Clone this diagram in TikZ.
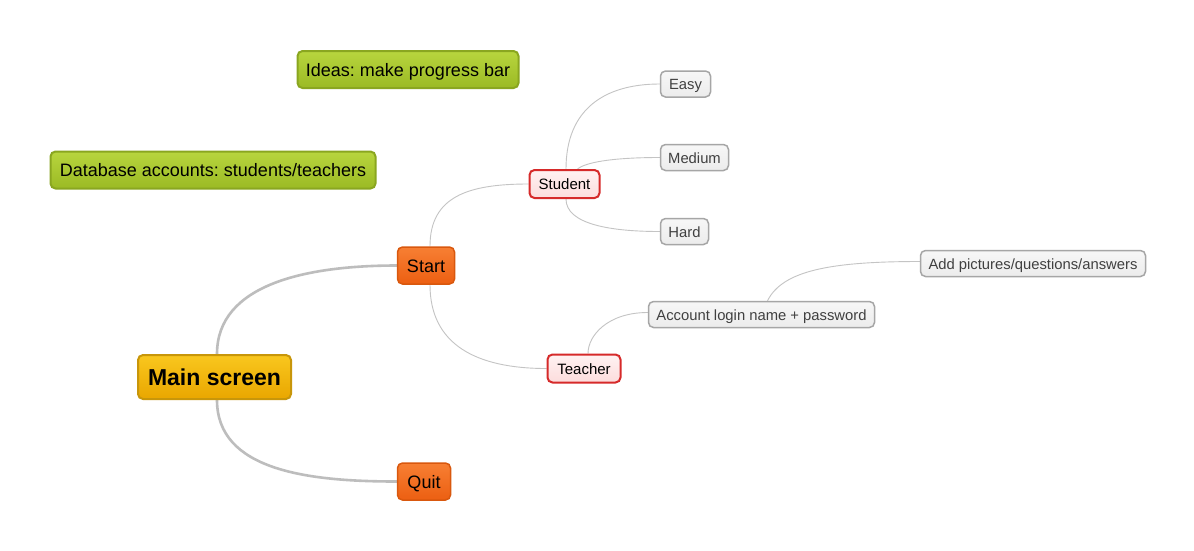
\documentclass[tikz,border=0pt]{standalone}
\usepackage{fontspec}
\setmainfont{Liberation Sans}
\usetikzlibrary{backgrounds}
\frenchspacing
\definecolor{mainborder}{HTML}{C8960A}
\definecolor{maintop}{HTML}{F9C71E}
\definecolor{mainbot}{HTML}{E9A600}
\definecolor{orgborder}{HTML}{D9580E}
\definecolor{orgtop}{HTML}{F77F33}
\definecolor{orgbot}{HTML}{EC5F12}
\definecolor{grnborder}{HTML}{8AA620}
\definecolor{grntop}{HTML}{B8D53E}
\definecolor{grnbot}{HTML}{9BBA24}
\definecolor{redborder}{HTML}{D62A2A}
\definecolor{pinktop}{HTML}{FFF2F2}
\definecolor{pinkbot}{HTML}{FCDCDC}
\definecolor{gryborder}{HTML}{A6A6A6}
\definecolor{grytop}{HTML}{F7F7F7}
\definecolor{grybot}{HTML}{ECECEC}
\definecolor{gtext}{HTML}{404040}
\definecolor{thickline}{HTML}{BDBDBD}
\definecolor{thinline}{HTML}{C4C4C4}
\tikzset{
  box/.style={rounded corners=5pt, inner sep=0pt, align=center, anchor=center, text depth=0pt},
  mainbox/.style={box, draw=mainborder, line width=2pt, top color=maintop, bottom color=mainbot,
    font=\fontsize{23}{27}\selectfont\bfseries, minimum width=153pt, minimum height=44pt,
    text height=17pt},
  orgbox/.style={box, draw=orgborder, line width=1.5pt, top color=orgtop, bottom color=orgbot,
    font=\fontsize{18}{21}\selectfont, minimum height=37pt, text height=13.5pt},
  grnbox/.style={box, draw=grnborder, line width=2pt, top color=grntop, bottom color=grnbot,
    font=\fontsize{18}{21}\selectfont, minimum height=37pt, text height=13.5pt},
  redbox/.style={box, draw=redborder, line width=2pt, top color=pinktop, bottom color=pinkbot,
    font=\fontsize{15}{18}\selectfont, minimum height=28pt, text height=11.3pt},
  grybox/.style={box, draw=gryborder, line width=1.5pt, top color=grytop, bottom color=grybot,
    text=gtext, font=\fontsize{14.8}{18}\selectfont, minimum height=26pt, text height=11.1pt},
  thicklink/.style={draw=thickline, line width=2.6pt},
  thinlink/.style={draw=thinline, line width=0.9pt},
}
\begin{document}
\begin{tikzpicture}[x=1pt,y=-1pt]
\useasboundingbox (0,0) rectangle (1194,550);

\node[mainbox] (main) at (214.5,377) {Main screen};
\node[orgbox, minimum width=57pt] (start) at (426,265.5) {Start};
\node[orgbox, minimum width=53pt] (quit) at (424,481.5) {Quit};
\node[grnbox, minimum width=221pt] (ideas) at (408,69.5) {Ideas: make progress bar};
\node[grnbox, minimum width=325pt] (db) at (213,170) {Database accounts: students/teachers};
\node[redbox, minimum width=70pt] (student) at (564.5,184) {Student};
\node[redbox, minimum width=73pt] (teacher) at (584,368.5) {Teacher};
\node[grybox, minimum width=50pt] (easy) at (685.5,84) {Easy};
\node[grybox, minimum width=68pt] (medium) at (694.5,157.5) {Medium};
\node[grybox, minimum width=48pt] (hard) at (684.5,231.5) {Hard};
\node[grybox, minimum width=226pt] (account) at (761.5,314.5) {Account login name + password};
\node[grybox, minimum width=225pt] (add) at (1033,263.5) {Add pictures/questions/answers};

\begin{scope}[on background layer]
\fill[white] (0,0) rectangle (1194,550);
\draw[thicklink] ([xshift=2.5pt]main.north) .. controls ++(0,-70) and ++(-90,0) .. (start.west);
\draw[thicklink] ([xshift=2.5pt]main.south) .. controls ++(0,70) and ++(-90,0) .. (quit.west);
\draw[thinlink] ([xshift=4pt]start.north) .. controls ++(0,-50) and ++(-60,0) .. (student.west);
\draw[thinlink] ([xshift=4pt]start.south) .. controls ++(0,60) and ++(-70,0) .. (teacher.west);
\draw[thinlink] ([xshift=1.5pt]student.north) .. controls ++(0,-60) and ++(-55,0) .. (easy.west);
\draw[thinlink] ([xshift=13pt]student.north) .. controls ++(10,-8) and ++(-40,0) .. (medium.west);
\draw[thinlink] ([xshift=1.5pt]student.south) .. controls ++(0,25) and ++(-50,0) .. (hard.west);
\draw[thinlink] ([xshift=4pt]teacher.north) .. controls ++(0,-18) and ++(-40,0) .. ([yshift=2pt]account.west);
\draw[thinlink] ([xshift=6pt]account.north) .. controls ++(15,-30) and ++(-90,0) .. ([yshift=2pt]add.west);
\end{scope}
\end{tikzpicture}
\end{document}
